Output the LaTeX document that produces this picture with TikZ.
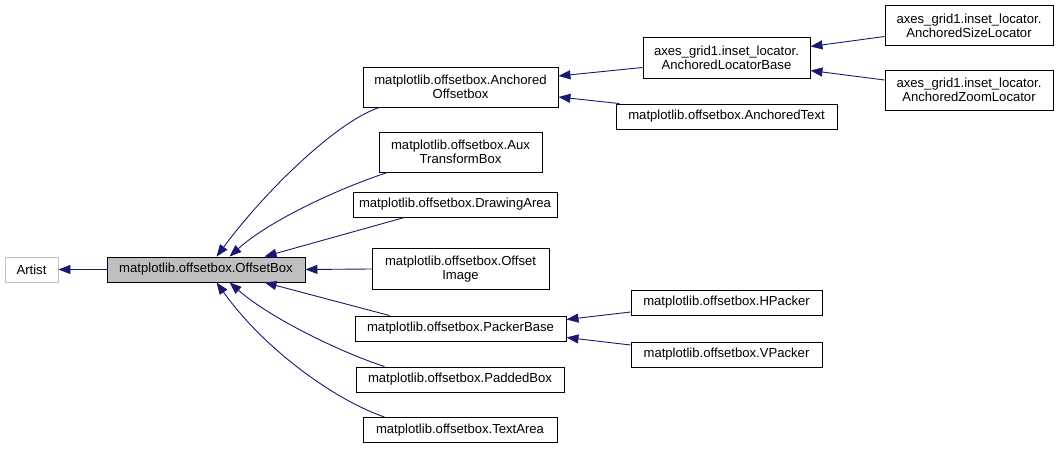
\documentclass[tikz,border=0pt]{standalone}
\usepackage{fontspec}
\setmainfont{Liberation Sans}
\usetikzlibrary{arrows.meta}
\definecolor{edgec}{HTML}{191970}
\definecolor{boxgray}{HTML}{BFBFBF}
\begin{document}
\begin{tikzpicture}[x=1pt,y=-1pt,
  cls/.style={draw=black, line width=0.9pt, rectangle, inner sep=0pt, align=center,
    font=\fontsize{13.1}{14}\selectfont, fill=white},
  edge/.style={draw=edgec, line width=0.9pt, -{Triangle[length=12pt,width=9pt]}, fill=none}]
\useasboundingbox (0,0) rectangle (1057,449);
% nodes
\node[cls, draw=boxgray, minimum width=53pt, minimum height=25pt] (artist) at (31.5,269.5) {Artist};
\node[cls, fill=boxgray, minimum width=198pt, minimum height=25pt] (ob) at (206,269.5) {matplotlib.offsetbox.OffsetBox};
\node[cls, minimum width=195pt, minimum height=40pt] (aob) at (460.5,87) {matplotlib.offsetbox.Anchored\\Offsetbox};
\node[cls, minimum width=163pt, minimum height=40pt] (aux) at (460.5,152) {matplotlib.offsetbox.Aux\\TransformBox};
\node[cls, minimum width=204pt, minimum height=25pt] (da) at (455,204.5) {matplotlib.offsetbox.DrawingArea};
\node[cls, minimum width=177pt, minimum height=41pt] (oi) at (460.5,269) {matplotlib.offsetbox.Offset\\Image};
\node[cls, minimum width=211pt, minimum height=25pt] (pb) at (460.5,328.5) {matplotlib.offsetbox.PackerBase};
\node[cls, minimum width=208pt, minimum height=25pt] (pad) at (460,379.5) {matplotlib.offsetbox.PaddedBox};
\node[cls, minimum width=194pt, minimum height=25pt] (ta) at (460,430) {matplotlib.offsetbox.TextArea};
\node[cls, minimum width=167pt, minimum height=41pt] (alb) at (726.5,57.5) {axes\_grid1.inset\_locator.\\AnchoredLocatorBase};
\node[cls, minimum width=221pt, minimum height=25pt] (at) at (726.5,116.5) {matplotlib.offsetbox.AnchoredText};
\node[cls, minimum width=168pt, minimum height=40pt] (asl) at (969,25.5) {axes\_grid1.inset\_locator.\\AnchoredSizeLocator};
\node[cls, minimum width=168pt, minimum height=40pt] (azl) at (969,90) {axes\_grid1.inset\_locator.\\AnchoredZoomLocator};
\node[cls, minimum width=191pt, minimum height=25pt] (hp) at (726.5,302.5) {matplotlib.offsetbox.HPacker};
\node[cls, minimum width=191pt, minimum height=25pt] (vp) at (726.5,354.5) {matplotlib.offsetbox.VPacker};
% edges
\draw[edge] (ob.west) -- (artist.east);
\draw[edge] ([xshift=17pt]aob.south west) .. controls (340,120) and (270,185) .. ([xshift=110pt]ob.north west);
\draw[edge] ([xshift=9pt]aux.south west) .. controls (340,188) and (270,220) .. ([xshift=123pt]ob.north west);
\draw[edge] ([xshift=52pt]da.south west) -- ([xshift=158pt]ob.north west);
\draw[edge] (oi.west) -- (ob.east);
\draw[edge] ([xshift=35pt]pb.north west) -- ([xshift=158pt]ob.south west);
\draw[edge] ([xshift=29pt]pad.north west) .. controls (340,352) and (270,318) .. ([xshift=123pt]ob.south west);
\draw[edge] ([xshift=22pt]ta.north west) .. controls (335,400) and (265,350) .. ([xshift=110pt]ob.south west);
\draw[edge] ([yshift=-10pt]alb.west) -- ([yshift=11pt]aob.east);
\draw[edge] ([xshift=4pt]at.north west) -- ([yshift=-10pt]aob.east);
\draw[edge] ([yshift=-11pt]asl.west) -- ([yshift=11pt]alb.east);
\draw[edge] ([yshift=10pt]azl.west) -- ([yshift=-13pt]alb.east);
\draw[edge] ([yshift=-9.5pt]hp.west) -- ([yshift=9pt]pb.east);
\draw[edge] ([yshift=9.5pt]vp.west) -- ([yshift=-9pt]pb.east);
\end{tikzpicture}
\end{document}
